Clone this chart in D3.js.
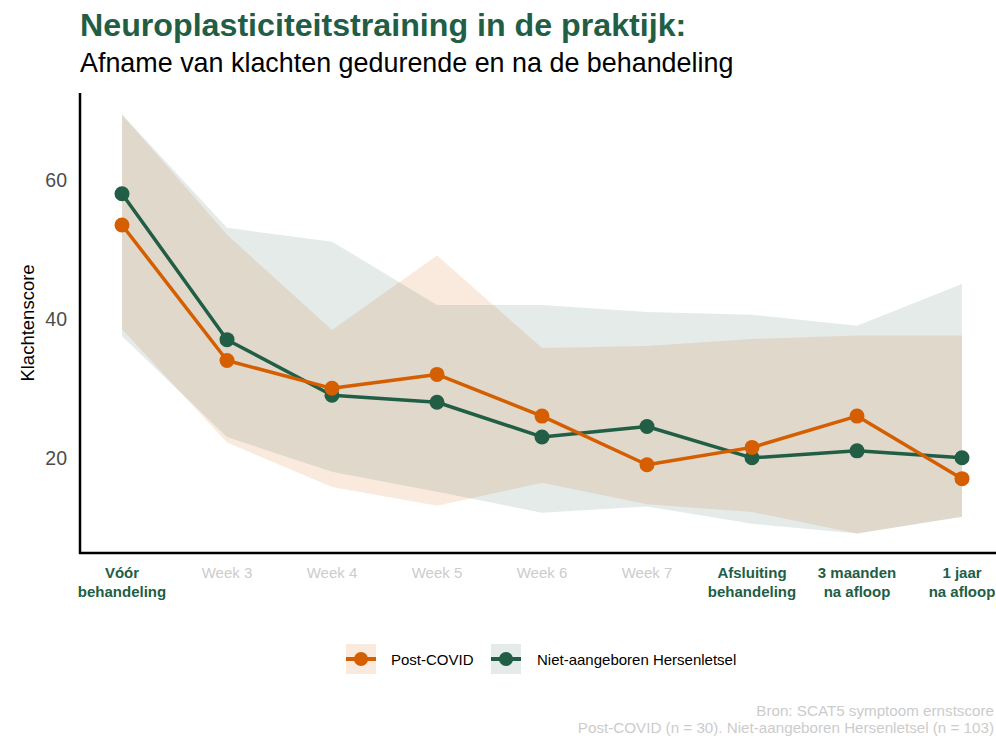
<!DOCTYPE html>
<html>
<head>
<meta charset="utf-8">
<script src="https://cdn.jsdelivr.net/npm/d3@7"></script>
<style>
  html, body { margin: 0; padding: 0; overflow: hidden; background: #fff; }
  text { font-family: "Liberation Sans", Arial, sans-serif; }
</style>
</head>
<body>
<div id="svghandle"></div>
<script>
  // tijdstippen (x-as), regels gescheiden door \n
  const categories = [
    "Vóór\nbehandeling", "Week 3", "Week 4", "Week 5", "Week 6", "Week 7",
    "Afsluiting\nbehandeling", "3 maanden\nna afloop", "1 jaar\nna afloop"
  ]
  const highlighted = [true, false, false, false, false, false, true, true, true]

  // Post-COVID
  const covidMean = [53.5, 34, 30, 32, 26, 19, 21.5, 26, 17]
  const covidLow  = [38.5, 22.2, 15.8, 13.1, 16.4, 13.3, 12.2, 9.1, 11.5]
  const covidHigh = [69.4, 52.1, 38.4, 49.1, 35.8, 36.1, 37.1, 37.6, 37.6]

  // Niet-aangeboren Hersenletsel
  const nahMean = [58, 37, 29, 28, 23, 24.5, 20, 21, 20]
  const nahLow  = [37.5, 23, 18, 15.1, 12.1, 13, 10.5, 9.1, 11.5]
  const nahHigh = [69.4, 53.1, 51.1, 42, 42, 41, 40.6, 39, 45]

  const yTicks = [20, 40, 60]

  const orange = '#D55E00'
  const green = '#215E45'

  const series = [
    { name: 'Niet-aangeboren Hersenletsel', color: green, mean: nahMean, low: nahLow, high: nahHigh, alpha: 0.12 },
    { name: 'Post-COVID', color: orange, mean: covidMean, low: covidLow, high: covidHigh, alpha: 0.13 }
  ]

  const width = 1010, height = 748
  const plotLeft = 80, plotRight = 1004, plotTop = 93, plotBottom = 553

  const svg = d3.select('#svghandle')
    .append('svg')
      .attr('width', width)
      .attr('height', height)
      .style('display', 'block')

  const x = d3.scalePoint()
    .domain(categories)
    .range([plotLeft, plotRight])
    .padding(0.4)

  const y = d3.scaleLinear()
    .domain([6.3, 72.5])
    .range([plotBottom, plotTop])

  // titels
  svg.append('text')
    .attr('x', 80).attr('y', 36)
    .style('font-size', '32.2px')
    .style('font-weight', 'bold')
    .style('fill', green)
    .text('Neuroplasticiteitstraining in de praktijk:')

  svg.append('text')
    .attr('x', 80).attr('y', 72)
    .style('font-size', '26.9px')
    .style('fill', '#000')
    .text('Afname van klachten gedurende en na de behandeling')

  // banden (eerst covid, dan nah)
  const area = s => d3.area()
    .x((d, i) => x(categories[i]))
    .y0((d, i) => y(s.low[i]))
    .y1((d, i) => y(s.high[i]))

  svg.selectAll('path.band')
    .data([series[1], series[0]])
    .join('path')
      .attr('class', 'band')
      .attr('d', s => area(s)(s.mean))
      .style('fill', s => s.color)
      .style('fill-opacity', s => s.alpha)

  // lijnen en punten
  const line = d3.line()
    .x((d, i) => x(categories[i]))
    .y(d => y(d))

  series.forEach(s => {
    svg.append('path')
      .attr('d', line(s.mean))
      .style('fill', 'none')
      .style('stroke', s.color)
      .style('stroke-width', 3.5)
      .style('stroke-linejoin', 'round')

    svg.append('g')
      .selectAll('circle')
      .data(s.mean)
      .join('circle')
        .attr('cx', (d, i) => x(categories[i]))
        .attr('cy', d => y(d))
        .attr('r', 7.5)
        .style('fill', s.color)
  })

  // y-as
  const yAxis = svg.append('g')
    .attr('transform', `translate(${plotLeft},0)`)
    .call(d3.axisLeft(y).tickValues(yTicks).tickSize(0).tickPadding(13))
  yAxis.select('.domain').attr('d', `M0,${plotTop}V${plotBottom + 1}`).style('stroke', '#000').style('stroke-width', 2.5)
  yAxis.selectAll('text')
    .style('font-size', '19.5px')
    .style('fill', '#4D4D4D')
    .style('font-family', '"Liberation Sans", Arial, sans-serif')

  svg.append('text')
    .attr('transform', `translate(34,${(plotTop + plotBottom) / 2}) rotate(-90)`)
    .attr('text-anchor', 'middle')
    .style('font-size', '18.5px')
    .style('fill', '#000')
    .text('Klachtenscore')

  // x-as
  const xAxis = svg.append('g')
    .attr('transform', `translate(0,${plotBottom})`)
    .call(d3.axisBottom(x).tickSize(0).tickFormat(''))
  xAxis.select('.domain').attr('d', `M${plotLeft - 1},0H${plotRight}`).style('stroke', '#000').style('stroke-width', 2.5)

  svg.append('g')
    .selectAll('text')
    .data(categories)
    .join('text')
      .attr('x', d => x(d))
      .attr('y', 578)
      .attr('text-anchor', 'middle')
      .style('font-size', '15px')
      .style('font-weight', (d, i) => highlighted[i] ? 'bold' : 'normal')
      .style('fill', (d, i) => highlighted[i] ? green : '#CCCCCC')
      .each(function (d) {
        d3.select(this).selectAll('tspan')
          .data(d.split('\n'))
          .join('tspan')
            .attr('x', x(d))
            .attr('dy', (t, j) => j === 0 ? 0 : 19)
            .text(t => t)
      })

  // legenda
  const legend = [
    { s: series[1], x: 346, tx: 391 },
    { s: series[0], x: 491, tx: 537 }
  ]
  const lg = svg.append('g').selectAll('g')
    .data(legend)
    .join('g')
      .attr('transform', d => `translate(${d.x},644)`)

  lg.append('rect')
    .attr('width', 30).attr('height', 30)
    .style('fill', d => d.s.color)
    .style('fill-opacity', d => d.s.alpha)
  lg.append('line')
    .attr('x1', 0).attr('x2', 30).attr('y1', 15).attr('y2', 15)
    .style('stroke', d => d.s.color)
    .style('stroke-width', 4)
  lg.append('circle')
    .attr('cx', 15).attr('cy', 15).attr('r', 7)
    .style('fill', d => d.s.color)
  lg.append('text')
    .attr('x', d => d.tx - d.x).attr('y', 20.5)
    .style('font-size', '15px')
    .style('fill', '#000')
    .text(d => d.s.name)

  // bron
  svg.append('text')
    .attr('x', 994).attr('y', 716)
    .attr('text-anchor', 'end')
    .style('font-size', '15.2px')
    .style('fill', '#CCCCCC')
    .text('Bron: SCAT5 symptoom ernstscore')

  svg.append('text')
    .attr('x', 994).attr('y', 733)
    .attr('text-anchor', 'end')
    .style('font-size', '15.2px')
    .style('fill', '#CCCCCC')
    .text('Post-COVID (n = 30). Niet-aangeboren Hersenletsel (n = 103)')
</script>
</body>
</html>
